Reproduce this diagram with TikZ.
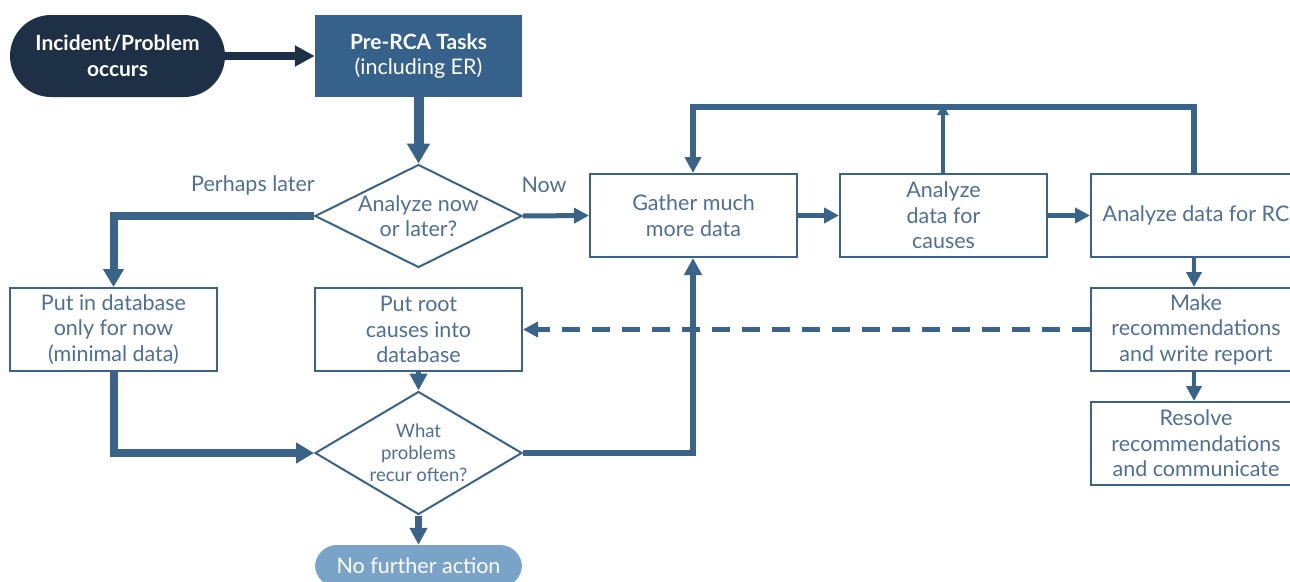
\documentclass[tikz,border=0pt]{standalone}
\usepackage{fontspec}
\setmainfont{Lato}
\usetikzlibrary{arrows.meta,shapes.geometric}

\definecolor{navy}{HTML}{1D3046}
\definecolor{steel}{HTML}{36618A}
\definecolor{pale}{HTML}{7AA3C8}
\definecolor{edge}{HTML}{3A6389}
\definecolor{ink}{HTML}{4E7094}

\tikzset{
  base/.style={font=\fontsize{21.5}{25.5}\selectfont, align=center, inner sep=0pt},
  procbox/.style={base, draw=edge, line width=2pt, fill=white, text=ink,
    minimum width=207pt, minimum height=83pt},
  terminal/.style={base, fill=navy, text=white, rounded corners=41pt,
    minimum width=215pt, minimum height=82pt},
  prebox/.style={base, fill=steel, text=white,
    minimum width=207pt, minimum height=82pt},
  decision/.style={diamond, draw=edge, line width=2pt, fill=white, inner sep=0pt,
    minimum width=207pt},
  endpill/.style={base, fill=pale, text=white, rounded corners=22pt,
    minimum width=207pt, minimum height=42pt},
  flowlabel/.style={font=\fontsize{21.5}{25.5}\selectfont, text=ink},
  tip/.style={-{Triangle[width=#1,length=#1]}},
  flow/.style={draw=edge, line width=#1},
}

\begin{document}
\begin{tikzpicture}[x=1pt,y=-1pt]
\useasboundingbox (0,0) rectangle (1290,581);
\clip (0,0) rectangle (1290,581);

% start / pre-work
\node[terminal, font=\fontsize{21}{25.5}\selectfont\bfseries] (start) at (117.5,56) {Incident/Problem\\occurs};
\node[prebox] (pre) at (418.5,56) {{\fontsize{21}{25.5}\selectfont\bfseries Pre-RCA Tasks}\\(including ER)};

% first decision
\node[decision, minimum height=103pt] (q1) at (418.5,216) {};
\node[base, text=ink] at (q1.center) {Analyze now\\or later?};
\node[flowlabel] (later) at (253,185) {Perhaps later};
\node[flowlabel] (now) at (544,185) {Now};

% analysis row
\node[procbox] (gather) at (693.5,215.5) {Gather much\\more data};
\node[procbox] (causes) at (943.5,215.5) {Analyze\\data for\\causes};
\node[procbox, minimum width=210pt] (rc) at (1196,215.5) {Analyze data for RC};
\node[procbox, minimum width=210pt] (recs) at (1196,329.5) {Make\\recommendations\\and write report};
\node[procbox, minimum width=210pt] (resolve) at (1196,443.5) {Resolve\\recommendations\\and communicate};

% database boxes
\node[procbox] (dbnow) at (113.5,329.5) {Put in database\\only for now\\(minimal data)};
\node[procbox] (dbroot) at (418.5,329.5) {Put root\\causes into\\database};

% second decision and end
\node[decision, minimum height=123pt] (q2) at (418.5,453) {};
\node[base, text=ink, font=\fontsize{18.5}{22}\selectfont] at (q2.center) {What\\problems\\recur often?};
\node[endpill] (none) at (418.5,566) {No further action};

% loop-back junctions
\coordinate (topL) at (693,107);
\coordinate (topR) at (1194,107);
\coordinate (topM) at (943,107);

% connectors
\draw[flow=8pt, draw=navy, -{Triangle[width=20pt,length=20pt]}] (start) -- (pre);
\draw[flow=10pt, -{Triangle[width=22pt,length=20pt]}] (pre) -- (q1);
\draw[flow=8pt, -{Triangle[width=20pt,length=18pt]}] (q1.west) -| (dbnow.north);
\draw[flow=5pt, tip=15pt] (q1.east) -- (gather.west);
\draw[flow=5pt, tip=15pt] (gather) -- (causes);
\draw[flow=5pt, tip=15pt] (causes) -- (rc);
\draw[flow=6pt, line join=miter, -{Triangle[width=16pt,length=16pt]}] (rc.north -| topR) -- (topR) -- (topL) -- (gather.north -| topL);
\draw[flow=3.5pt, -{Triangle[width=11pt,length=11pt]}] (causes.north -| topM) -- ([yshift=3pt]topM);
\draw[flow=4pt, tip=15pt] (rc.south -| topR) -- (recs.north -| topR);
\draw[flow=4pt, tip=15pt] (recs.south -| topR) -- (resolve.north -| topR);
\draw[flow=5pt, dash pattern=on 18pt off 12pt, tip=15pt] (recs.west) -- (dbroot.east);
\draw[flow=5pt, tip=17pt] (dbroot) -- (q2);
\draw[flow=8pt, line join=miter, -{Triangle[width=20pt,length=18pt]}] (dbnow.south) |- (q2.west);
\draw[flow=6pt, line join=miter, tip=17pt] (q2.east) -| (gather.south -| topL);
\draw[flow=7pt, tip=17pt] (q2) -- (none);
\end{tikzpicture}
\end{document}
